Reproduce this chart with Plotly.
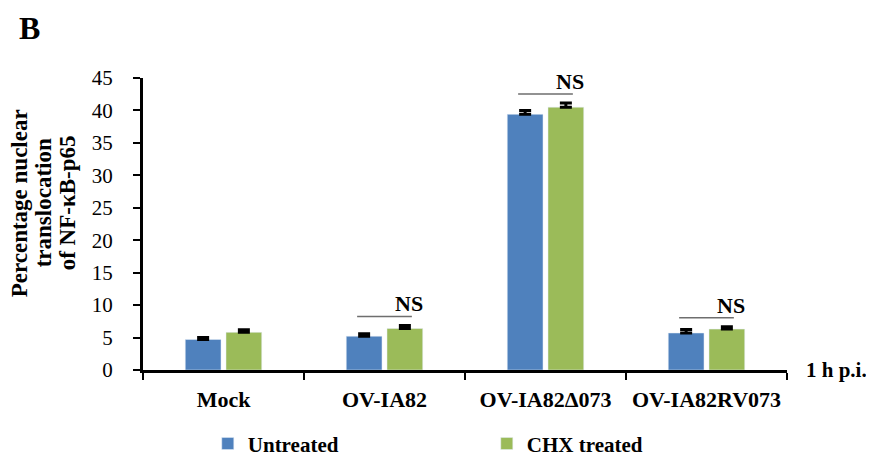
import plotly.graph_objects as go

categories = ["Mock", "OV-IA82", "OV-IA82Δ073", "OV-IA82RV073"]
untreated = [4.7, 5.2, 39.4, 5.7]
untreated_err = [0.3, 0.4, 0.6, 0.55]
chx = [5.8, 6.4, 40.5, 6.3]
chx_err = [0.4, 0.45, 0.65, 0.35]
ns_groups = [1, 2, 3]
y_ticks = [0, 5, 10, 15, 20, 25, 30, 35, 40, 45]
title_lines = ["Percentage nuclear", "translocation", "of NF-κB-p65"]

FONT = "Times New Roman, Liberation Serif, serif"
BLUE = "#4F81BD"
GREEN = "#9BBB59"

fig = go.Figure()
fig.add_trace(go.Bar(
    name="Untreated", x=categories, y=untreated, marker_color=BLUE,
    error_y=dict(type="data", array=untreated_err, arrayminus=[0] * len(untreated_err),
                 symmetric=False, color="black", thickness=3, width=6),
))
fig.add_trace(go.Bar(
    name="CHX treated", x=categories, y=chx, marker_color=GREEN,
    error_y=dict(type="data", array=chx_err, arrayminus=[0] * len(chx_err),
                 symmetric=False, color="black", thickness=3, width=6),
))

# NS comparison lines and labels
for i in ns_groups:
    top = max(untreated[i] + untreated_err[i], chx[i] + chx_err[i]) + 1.4
    fig.add_shape(type="line", xref="x", yref="y", x0=i - 0.17, x1=i + 0.17,
                  y0=top, y1=top, line=dict(color="#6e6e6e", width=1.5))
    fig.add_annotation(x=i + 0.15, y=top, xref="x", yref="y", text="<b>NS</b>",
                       showarrow=False, yanchor="bottom", yshift=-2,
                       font=dict(family=FONT, size=22, color="black"))

fig.add_annotation(x=1.0, y=0, xref="paper", yref="paper", text="<b>1 h p.i.</b>",
                   showarrow=False, xanchor="left", yanchor="middle", xshift=17,
                   font=dict(family=FONT, size=21, color="black"))

# y-axis title, three tightly spaced rotated lines
for k, line in enumerate(title_lines):
    fig.add_annotation(x=-0.1905 + k * 0.0373, y=0.572, xref="paper", yref="paper",
                       text="<b>" + line + "</b>", showarrow=False, textangle=-90,
                       xanchor="center", yanchor="middle",
                       font=dict(family=FONT, size=23, color="black"))

fig.add_annotation(x=-0.1766, y=1.171, xref="paper", yref="paper", text="<b>B</b>",
                   showarrow=False, xanchor="center", yanchor="middle",
                   font=dict(family=FONT, size=32, color="black"))

fig.update_layout(
    width=874, height=458,
    margin=dict(l=135, r=95, t=70, b=96, autoexpand=False),
    paper_bgcolor="white", plot_bgcolor="white",
    barmode="group", bargap=0.494, bargroupgap=0.123,
    font=dict(family=FONT, color="black"),
    showlegend=True,
    legend=dict(orientation="h", x=0.1006, y=-0.253, xanchor="left", yanchor="middle",
                entrywidth=234, font=dict(family=FONT, size=21, color="black", weight="bold"),
                bgcolor="rgba(0,0,0,0)"),
)
fig.update_xaxes(
    range=[-0.5, 3.5], showline=True, linecolor="black", linewidth=3,
    ticks="outside", tickson="boundaries", ticklen=7, tickwidth=2, tickcolor="black",
    tickfont=dict(family=FONT, size=22, color="black", weight="bold"),
    ticklabelstandoff=8, showgrid=False, zeroline=False, automargin=False,
)
fig.update_yaxes(
    range=[0, 45], tickvals=y_ticks, showline=True, linecolor="black", linewidth=3,
    ticks="outside", ticklen=7, tickwidth=2, tickcolor="black",
    tickfont=dict(family=FONT, size=21, color="black"),
    ticklabelstandoff=16, showgrid=False, zeroline=False, automargin=False,
)

fig.write_html("out.html")
